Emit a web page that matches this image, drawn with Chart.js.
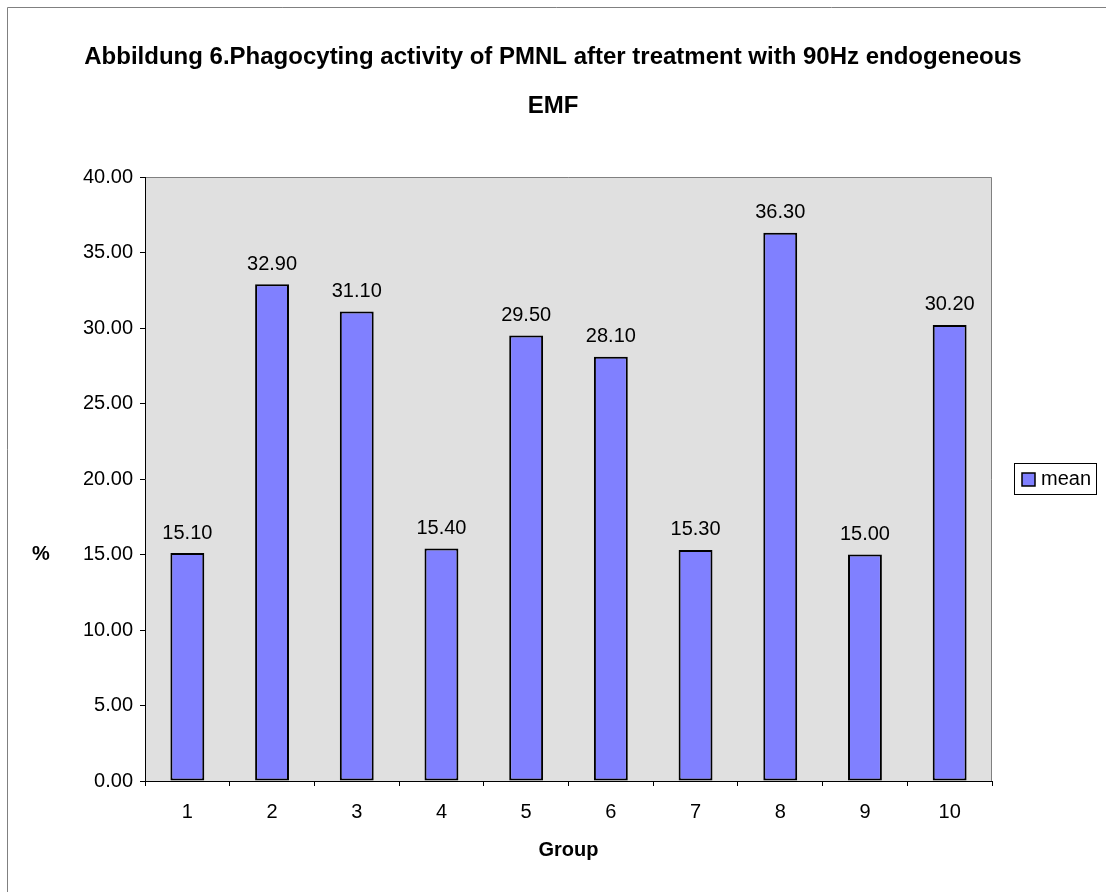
<!DOCTYPE html>
<html>
<head>
<meta charset="utf-8">
<title>Phagocyting activity of PMNL</title>
<script src="https://cdn.jsdelivr.net/npm/chart.js@4/dist/chart.umd.min.js"></script>
<style>
  html, body { margin: 0; padding: 0; background: #fff; overflow: hidden; }
  canvas { display: block; }
</style>
</head>
<body>
<canvas id="chart" width="1106" height="892"></canvas>
<script>
// ---- data ----
const groups = ['1', '2', '3', '4', '5', '6', '7', '8', '9', '10'];
const meanValues = [15.10, 32.90, 31.10, 15.40, 29.50, 28.10, 15.30, 36.30, 15.00, 30.20];
const seriesName = 'mean';
const titleLines = [
  'Abbildung 6.Phagocyting activity of PMNL after treatment with 90Hz endogeneous',
  'EMF'
];
const xAxisTitle = 'Group';
const yAxisTitle = '%';
const yMin = 0;
const yMax = 40;
const yStep = 5;

// ---- style ----
const FONT = '"Liberation Sans", Arial, Helvetica, sans-serif';
const BAR_FILL = '#8080ff';
const PLOT_FILL = '#e0e0e0';
const FRAME_GREY = '#808080';

Chart.defaults.font.family = FONT;
Chart.defaults.color = '#000';

// Page frame, page-centred title, grey plot background and its top/right edge
const plotFrame = {
  id: 'plotFrame',
  beforeDraw(chart) {
    const { ctx, chartArea: a } = chart;
    ctx.save();
    ctx.fillStyle = '#fff';
    ctx.fillRect(0, 0, chart.width, chart.height);
    ctx.strokeStyle = FRAME_GREY;
    ctx.lineWidth = 1;
    ctx.beginPath();
    ctx.moveTo(7.5, chart.height);
    ctx.lineTo(7.5, 7.5);
    ctx.lineTo(chart.width, 7.5);
    ctx.stroke();

    // title, two lines with wide spacing
    ctx.fillStyle = '#000';
    ctx.font = 'bold 24px ' + FONT;
    ctx.textAlign = 'center';
    ctx.textBaseline = 'middle';
    titleLines.forEach((line, i) => ctx.fillText(line, chart.width / 2, 57 + i * 49));

    ctx.fillStyle = PLOT_FILL;
    ctx.fillRect(a.left, a.top, a.right - a.left, a.bottom - a.top);
    ctx.beginPath();
    ctx.moveTo(a.left, Math.round(a.top) + 0.5);
    ctx.lineTo(Math.round(a.right) - 0.5, Math.round(a.top) + 0.5);
    ctx.lineTo(Math.round(a.right) - 0.5, a.bottom);
    ctx.stroke();
    ctx.restore();
  }
};

// Value labels above the bars, the unit label and the boxed legend
const annotations = {
  id: 'annotations',
  afterDatasetsDraw(chart) {
    const { ctx } = chart;
    const meta = chart.getDatasetMeta(0);
    ctx.save();
    ctx.font = '20px ' + FONT;
    ctx.fillStyle = '#000';
    ctx.textAlign = 'center';
    ctx.textBaseline = 'middle';
    meta.data.forEach((bar, i) => {
      const v = chart.data.datasets[0].data[i];
      ctx.fillText(v.toFixed(2), bar.x, bar.y - 20);
    });
    ctx.restore();
  },
  afterDraw(chart) {
    const { ctx, chartArea: a } = chart;
    ctx.save();
    // unit label left of the value axis
    ctx.font = 'bold 20px ' + FONT;
    ctx.fillStyle = '#000';
    ctx.textAlign = 'center';
    ctx.textBaseline = 'middle';
    ctx.fillText(yAxisTitle, 41, a.top + (a.bottom - a.top) * 0.625);

    // legend
    const ds = chart.data.datasets[0];
    const cy = (a.top + a.bottom) / 2;
    const bx = Math.round(a.right + 22);
    const by = Math.round(cy - 16);
    ctx.fillStyle = '#fff';
    ctx.fillRect(bx, by, 83, 32);
    ctx.strokeStyle = '#000';
    ctx.lineWidth = 1;
    ctx.strokeRect(bx + 0.5, by + 0.5, 82, 31);
    ctx.fillStyle = ds.backgroundColor;
    ctx.fillRect(bx + 8, Math.round(cy - 6.5), 13, 13);
    ctx.lineWidth = 1.5;
    ctx.strokeRect(bx + 8, Math.round(cy - 6.5), 13, 13);
    ctx.fillStyle = '#000';
    ctx.font = '20px ' + FONT;
    ctx.textAlign = 'left';
    ctx.fillText(ds.label, bx + 27, cy);
    ctx.restore();
  }
};

new Chart(document.getElementById('chart'), {
  type: 'bar',
  data: {
    labels: groups,
    datasets: [{
      label: seriesName,
      data: meanValues,
      backgroundColor: BAR_FILL,
      borderColor: '#000',
      borderWidth: 2,
      borderSkipped: false,
      barPercentage: 0.4,
      categoryPercentage: 1.0
    }]
  },
  options: {
    responsive: false,
    animation: false,
    devicePixelRatio: 1,
    layout: { padding: { top: 177, left: 0, right: 114, bottom: 0 } },
    plugins: {
      legend: { display: false },
      tooltip: { enabled: false },
      title: { display: false }
    },
    scales: {
      x: {
        type: 'category',
        offset: true,
        afterFit(scale) { scale.height = 111; },
        grid: {
          display: true,
          offset: true,
          drawOnChartArea: false,
          drawTicks: true,
          tickLength: 5,
          color: '#000'
        },
        border: { display: true, color: '#000', width: 1 },
        ticks: { font: { size: 20 }, color: '#000', padding: 14, maxRotation: 0, autoSkip: false },
        title: {
          display: true,
          text: xAxisTitle,
          color: '#000',
          font: { size: 20, weight: 'bold' },
          padding: { top: 0, bottom: 30 }
        }
      },
      y: {
        min: yMin,
        max: yMax,
        afterFit(scale) { scale.width = 145; },
        grid: {
          display: true,
          drawOnChartArea: false,
          drawTicks: true,
          tickLength: 5,
          color: '#000'
        },
        border: { display: true, color: '#000', width: 1 },
        ticks: {
          stepSize: yStep,
          font: { size: 20 },
          color: '#000',
          padding: 7,
          callback: (v) => Number(v).toFixed(2)
        }
      }
    }
  },
  plugins: [plotFrame, annotations]
});
</script>
</body>
</html>
